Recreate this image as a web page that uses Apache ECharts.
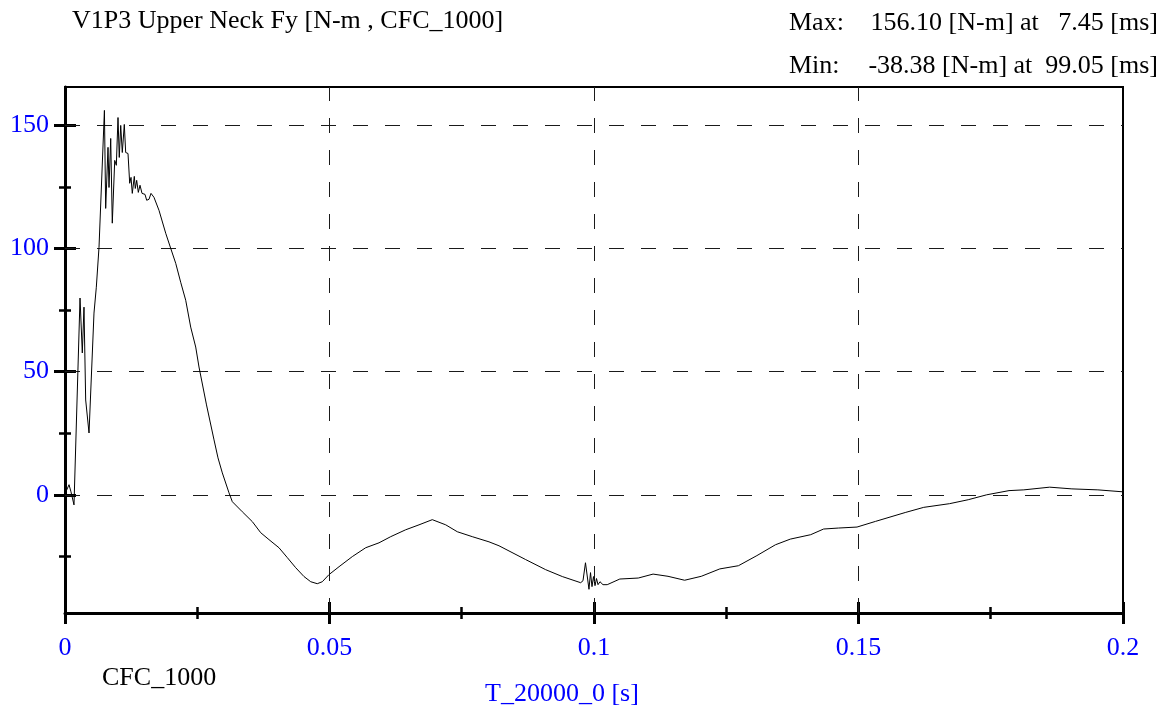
<!DOCTYPE html>
<html>
<head>
<meta charset="utf-8">
<title>V1P3 Upper Neck Fy</title>
<script src="https://cdn.jsdelivr.net/npm/echarts@6/dist/echarts.min.js"></script>
<style>
  html, body { margin: 0; padding: 0; background: #fff; }
  #chart { width: 1167px; height: 711px; }
</style>
</head>
<body>
<div id="chart"></div>
<script>
  // time [s] and Fy [N-m]
  const timeS = [
    0, 0.00076, 0.00113, 0.0017, 0.00284, 0.00327, 0.00359, 0.00391, 0.00454, 0.00548,
    0.00592, 0.00643, 0.00745, 0.00769, 0.00813, 0.00832, 0.00864, 0.00894, 0.0094, 0.0097,
    0.01002, 0.01026, 0.01053, 0.01083, 0.01121, 0.01147, 0.01191, 0.01223, 0.01248, 0.01272,
    0.0131, 0.01329, 0.01355, 0.01386, 0.01418, 0.01456, 0.01512, 0.01544, 0.01588, 0.01626,
    0.01682, 0.01777, 0.01904, 0.01998, 0.02093, 0.02187, 0.02282, 0.02376, 0.02471, 0.02533,
    0.02675, 0.02817, 0.02892, 0.02974, 0.031, 0.03163, 0.03352, 0.03541, 0.037, 0.03856,
    0.04045, 0.04202, 0.04361, 0.04518, 0.04645, 0.04769, 0.04864, 0.04991, 0.0518, 0.05431,
    0.05684, 0.05936, 0.06157, 0.0644, 0.06692, 0.06943, 0.07197, 0.07416, 0.07699, 0.08015,
    0.08204, 0.08708, 0.09086, 0.09401, 0.09748, 0.09792, 0.09839, 0.09905, 0.09934, 0.09962,
    0.09991, 0.10019, 0.10047, 0.10076, 0.10113, 0.1017, 0.1025, 0.10488, 0.10837, 0.11117,
    0.11399, 0.11713, 0.12028, 0.12378, 0.1273, 0.13079, 0.13429, 0.13711, 0.14096, 0.1434,
    0.14622, 0.14972, 0.15321, 0.15883, 0.16233, 0.16722, 0.17074, 0.17423, 0.17845, 0.18125,
    0.18614, 0.19034, 0.19525, 0.2
  ];
  const fyNm = [
    0.4, 4.1, 1.2, -4.1, 79.9, 57.6, 76.2, 38.5, 25.1, 73.8,
    84.3, 100.5, 156.1, 116.3, 141.1, 124.8, 144.7, 110.3, 135.8, 133.8,
    153.2, 137.0, 150.0, 139.0, 150.4, 139.0, 138.6, 126.5, 128.9, 122.4,
    129.3, 124.4, 127.7, 122.8, 125.7, 122.4, 122.0, 119.6, 120.0, 122.4,
    120.8, 115.5, 106.2, 100.1, 94.0, 86.3, 79.0, 68.1, 60.0, 51.9,
    36.5, 22.3, 15.0, 8.9, 0.8, -2.8, -6.9, -10.9, -15.4, -18.2,
    -21.5, -25.5, -29.6, -33.2, -35.3, -36.1, -35.3, -32.4, -29.2, -25.1,
    -21.5, -19.5, -17.0, -14.2, -12.2, -10.1, -12.2, -15.0, -17.0, -19.1,
    -20.7, -26.3, -30.4, -33.2, -35.7, -34.9, -27.6, -38.38, -31.6, -37.3,
    -33.2, -36.9, -34.0, -36.5, -35.3, -36.5, -36.5, -34.2, -33.8, -32.2,
    -33.1, -34.7, -33.1, -30.1, -28.8, -24.7, -20.3, -18.0, -16.2, -13.9,
    -13.5, -13.1, -10.8, -7.2, -5.1, -3.6, -2.0, 0.0, 1.7, 2.0,
    3.1, 2.4, 2.0, 1.2
  ];

  const yMajor = [0, 50, 100, 150];
  const yMinor = [-25, 25, 75, 125];
  const xGrid = [0.05, 0.1, 0.15];

  const FONT = 'Liberation Serif';
  const BLUE = '#0000ff';

  const chart = echarts.init(document.getElementById('chart'), null, { renderer: 'canvas' });

  const yBase = { type: 'value', position: 'left', min: -48, max: 165.6, splitLine: { show: false } };
  const xBase = { type: 'value', position: 'bottom', min: 0, max: 0.2, interval: 0.05, splitLine: { show: false } };

  function tickAxis(base, values, inside, len, width) {
    return Object.assign({}, base, {
      axisLine: { show: false },
      axisLabel: { show: false },
      axisTick: { show: true, inside: inside, length: len, customValues: values, lineStyle: { color: '#000', width: width } }
    });
  }

  const dashed = { color: '#1a1a1a', width: 1, type: [15, 17] };
  const txt = (s, fill) => ({ text: s, font: '26px "' + FONT + '"', fill: fill || '#000' });

  const option = {
    animation: false,
    backgroundColor: '#fff',
    grid: { left: 65, right: 44, top: 87, bottom: 98, show: true, borderColor: '#000', borderWidth: 2, backgroundColor: 'transparent' },
    xAxis: [
      Object.assign({}, xBase, {
        axisLine: { show: true, onZero: false, lineStyle: { color: '#000', width: 3 } },
        axisTick: { show: true, length: 11, lineStyle: { color: '#000', width: 3 } },
        minorTick: { show: true, splitNumber: 2, length: 6, lineStyle: { color: '#000', width: 2.5 } },
        axisLabel: { color: BLUE, fontFamily: FONT, fontSize: 26, margin: 22 }
      }),
      Object.assign({}, xBase, {
        axisLine: { show: false, onZero: false },
        axisTick: { show: true, inside: true, length: 11, lineStyle: { color: '#000', width: 3 } },
        minorTick: { show: true, splitNumber: 2, length: 6, lineStyle: { color: '#000', width: 2.5 } },
        axisLabel: { show: false }
      })
    ],
    yAxis: [
      Object.assign({}, yBase, {
        axisLine: { show: true, onZero: false, lineStyle: { color: '#000', width: 3 } },
        axisTick: { show: true, length: 11, customValues: yMajor, lineStyle: { color: '#000', width: 3 } },
        axisLabel: { color: BLUE, fontFamily: FONT, fontSize: 26, margin: 16, customValues: yMajor }
      }),
      tickAxis(yBase, yMajor, true, 11, 3),
      tickAxis(yBase, yMinor, false, 6, 2.5),
      tickAxis(yBase, yMinor, true, 6, 2.5)
    ],
    series: [{
      type: 'line',
      xAxisIndex: 0,
      yAxisIndex: 0,
      data: timeS.map((t, i) => [t, fyNm[i]]),
      symbol: 'none',
      lineStyle: { color: '#000', width: 1 },
      z: 3,
      markLine: {
        silent: true,
        symbol: ['none', 'none'],
        label: { show: false },
        lineStyle: dashed,
        z: 1,
        data: yMajor.map((v) => ({ yAxis: v })).concat(xGrid.map((v) => ({ xAxis: v })))
      }
    }],
    graphic: [
      { type: 'text', left: 72, top: 8, style: txt('V1P3 Upper Neck Fy [N-m , CFC_1000]') },
      { type: 'text', left: 789, top: 10, style: txt('Max:') },
      { type: 'text', right: 9, top: 10, style: txt('156.10 [N-m] at   7.45 [ms]') },
      { type: 'text', left: 789, top: 53, style: txt('Min:') },
      { type: 'text', right: 9, top: 53, style: txt('-38.38 [N-m] at  99.05 [ms]') },
      { type: 'text', left: 102, top: 665, style: txt('CFC_1000') },
      { type: 'text', left: 485, top: 681, style: txt('T_20000_0 [s]', BLUE) }
    ]
  };

  chart.setOption(option);
</script>
</body>
</html>
